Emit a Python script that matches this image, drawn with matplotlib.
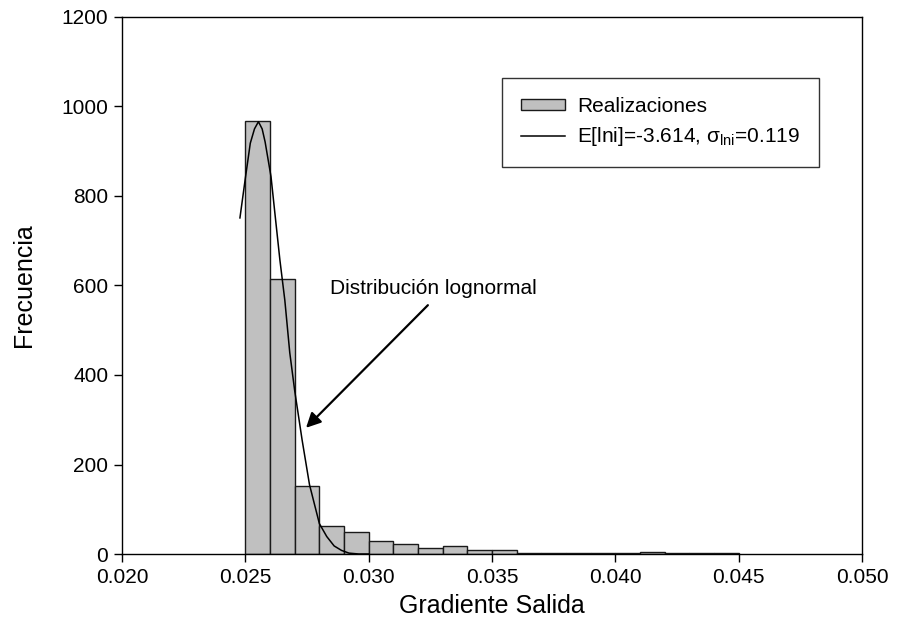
import numpy as np
import matplotlib
matplotlib.use("Agg")
import matplotlib.pyplot as plt
from matplotlib.patches import Patch
from matplotlib.lines import Line2D

plt.rcParams['font.family'] = ['Liberation Sans', 'DejaVu Sans']
plt.rcParams['mathtext.fontset'] = 'custom'
plt.rcParams['mathtext.rm'] = 'Liberation Sans'
plt.rcParams['mathtext.it'] = 'Liberation Sans:italic'

# Histogram of realizations: left bin edges and counts (bin width 0.001)
bin_left = [0.025, 0.026, 0.027, 0.028, 0.029, 0.030, 0.031, 0.032, 0.033, 0.034,
            0.035, 0.036, 0.037, 0.038, 0.039, 0.040, 0.041, 0.042, 0.043, 0.044]
counts = [968, 615, 153, 62, 49, 29, 22, 14, 19, 10,
          10, 3, 3, 2, 2, 3, 4, 2, 2, 2]
bin_width = 0.001

# Fitted lognormal curve
curve_x = [0.02478, 0.02499, 0.02520, 0.02537, 0.02553, 0.02568, 0.02580, 0.02604,
           0.02620, 0.02640, 0.02660, 0.02680, 0.02700, 0.02730, 0.02760, 0.02800,
           0.02830, 0.02860, 0.02890, 0.02920, 0.02960, 0.03000]
curve_y = [751, 836, 918, 950, 966, 950, 921, 843,
           760, 657, 567, 450, 365, 255, 155, 68,
           39, 18, 8, 2, 0, 0]

x_ticks = [0.020, 0.025, 0.030, 0.035, 0.040, 0.045, 0.050]
y_ticks = [0, 200, 400, 600, 800, 1000, 1200]

fig = plt.figure(figsize=(8.98, 6.43), dpi=100)
ax = fig.add_axes([0.1359, 0.1384, 0.9599 - 0.1359, 0.9736 - 0.1384])

ax.bar(bin_left, counts, width=bin_width, align='edge', color='#c0c0c0',
       edgecolor='#1a1a1a', linewidth=1.0, zorder=2)
ax.plot(curve_x, curve_y, color='black', linewidth=1.1, zorder=3)

ax.set_xlim(0.020, 0.050)
ax.set_ylim(0, 1200)
ax.set_xticks(x_ticks)
ax.set_xticklabels([f"{t:.3f}" for t in x_ticks])
ax.set_yticks(y_ticks)
ax.tick_params(axis='both', direction='out', length=6, width=1.0,
               labelsize=15, pad=4)
for s in ax.spines.values():
    s.set_linewidth(1.0)

ax.set_xlabel('Gradiente Salida', fontsize=18, labelpad=5)
ax.set_ylabel('Frecuencia', fontsize=18, labelpad=18)

ax.annotate('', xy=(0.02746, 282), xytext=(0.03240, 556),
            arrowprops=dict(arrowstyle='-|>', color='black', lw=1.6,
                            mutation_scale=22, shrinkA=0, shrinkB=0), zorder=4)
ax.text(0.03262, 594, 'Distribución lognormal', fontsize=15,
        ha='center', va='center')

handles = [Patch(facecolor='#c0c0c0', edgecolor='#1a1a1a', linewidth=1.0),
           Line2D([0], [0], color='black', linewidth=1.1)]
labels = ['Realizaciones', r'E[lni]=-3.614, σ$_{\mathrm{lni}}$=0.119']
leg = ax.legend(handles, labels, loc='upper left',
                bbox_to_anchor=(0.5135, 0.8864), fontsize=15, frameon=True,
                fancybox=False, edgecolor='black', borderpad=0.9,
                handlelength=2.1, handleheight=0.42, handletextpad=0.6,
                labelspacing=0.45, borderaxespad=0)
leg.get_frame().set_linewidth(1.0)

fig.savefig('out.png', dpi=100)
